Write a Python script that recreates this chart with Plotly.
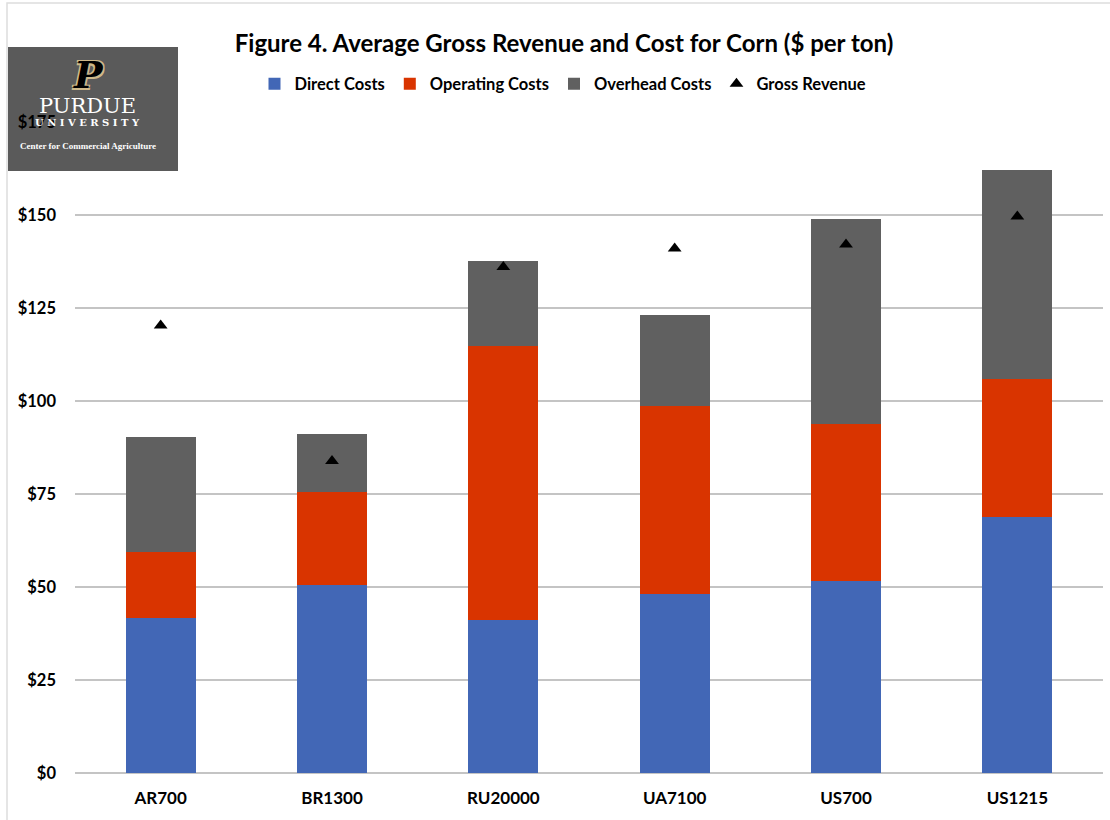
import plotly.graph_objects as go

categories = ["AR700", "BR1300", "RU20000", "UA7100", "US700", "US1215"]
direct_costs = [41.7, 50.5, 41.0, 48.2, 51.7, 68.8]
operating_costs = [17.7, 25.0, 73.8, 50.4, 42.0, 37.2]
overhead_costs = [30.8, 15.5, 22.8, 24.6, 55.3, 56.2]
gross_revenue = [120.3, 83.9, 136.0, 141.0, 142.1, 149.6]
y_ticks = [0, 25, 50, 75, 100, 125, 150, 175]
y_tick_labels = ["$0", "$25", "$50", "$75", "$100", "$125", "$150", "$175"]

FONT = "Lato"
fig = go.Figure()
fig.add_bar(x=categories, y=direct_costs, name="Direct Costs", marker_color="#4267B6", marker_line_width=0)
fig.add_bar(x=categories, y=operating_costs, name="Operating Costs", marker_color="#D93400", marker_line_width=0)
fig.add_bar(x=categories, y=overhead_costs, name="Overhead Costs", marker_color="#606060", marker_line_width=0)
fig.add_scatter(x=categories, y=gross_revenue, name="Gross Revenue", mode="markers",
                marker=dict(symbol="triangle-up", size=12, color="black"))

L, R, T, B = 75, 7, 122, 47
W, H = 1110, 820
pw, ph = W - L - R, H - T - B

def px(x):
    return (x - L) / pw

def py(y):
    return (H - B - y) / ph

fig.update_layout(
    width=W, height=H,
    margin=dict(l=L, r=R, t=T, b=B, pad=0),
    barmode="stack", bargap=0.59,
    plot_bgcolor="white", paper_bgcolor="white",
    font=dict(family=FONT, color="black"),
    title=dict(text="<b>Figure 4. Average Gross Revenue and Cost for Corn ($ per ton)</b>",
               x=564 / W, xref="container", xanchor="center",
               y=1 - 44 / H, yref="container", yanchor="middle",
               font=dict(size=24, family=FONT, color="black")),
    legend=dict(orientation="h", x=px(563), xanchor="center", y=py(84), yanchor="middle",
                font=dict(size=16.5, family=FONT, color="black", weight="bold"),
                itemsizing="constant", traceorder="normal", bgcolor="rgba(0,0,0,0)"),
    showlegend=True,
)
fig.update_xaxes(showgrid=False, showline=False, ticks="", zeroline=False,
                 tickfont=dict(size=17, family=FONT, weight="bold"), ticklabelstandoff=13)
fig.update_yaxes(range=[0, 175], tickvals=y_ticks, ticktext=y_tick_labels,
                 showgrid=True, gridcolor="#C4C4C4", gridwidth=1.5, zeroline=True,
                 zerolinecolor="#C4C4C4", zerolinewidth=1.5, showline=False, ticks="",
                 tickfont=dict(size=16.5, family=FONT, weight="bold"), ticklabelstandoff=18)

# outer frame
fig.add_shape(type="rect", xref="paper", yref="paper", x0=px(7), x1=px(1120), y0=py(830), y1=py(3),
              line=dict(color="#DDDDDD", width=1.5), fillcolor="rgba(0,0,0,0)", layer="below")
# logo box
fig.add_shape(type="rect", xref="paper", yref="paper", x0=px(8), x1=px(178), y0=py(171), y1=py(47),
              line=dict(width=0), fillcolor="#5A5A5A", layer="below")
fig.add_annotation(text="<b><i>P</i></b>", xref="paper", yref="paper", x=px(88), y=py(75),
                   xanchor="center", yanchor="middle", borderpad=0,
                   showarrow=False, font=dict(family="DejaVu Serif", size=38, color="black",
                   shadow="-1.5px -1.5px 0 #CEB888, 1.5px -1.5px 0 #CEB888, -1.5px 1.5px 0 #CEB888, 1.5px 1.5px 0 #CEB888"))
fig.add_annotation(text="PURDUE", xref="paper", yref="paper", x=px(87), y=py(106),
                   xanchor="center", yanchor="middle", borderpad=0,
                   showarrow=False, font=dict(family="DejaVu Serif", size=21, color="white"))
fig.add_annotation(text="U N I V E R S I T Y", xref="paper", yref="paper", x=px(87), y=py(122),
                   xanchor="center", yanchor="middle", borderpad=0,
                   showarrow=False, font=dict(family="DejaVu Serif", size=10, color="white", weight="bold"))
fig.add_annotation(text="<b>Center for Commercial Agriculture</b>", xref="paper", yref="paper", x=px(88), y=py(146),
                   xanchor="center", yanchor="middle", borderpad=0,
                   showarrow=False, font=dict(family="Liberation Sans Narrow", size=9, color="white"))

fig.write_html("out.html", config={"displayModeBar": False},
               post_script="document.body.style.margin='0';")
